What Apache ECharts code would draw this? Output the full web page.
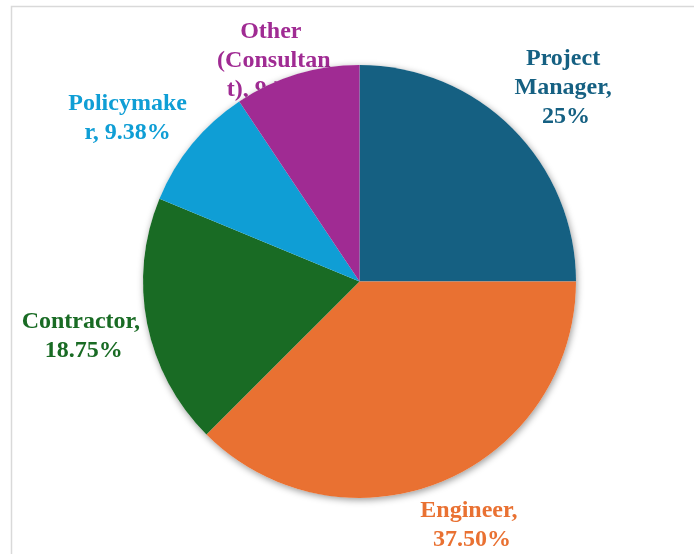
<!DOCTYPE html>
<html>
<head>
<meta charset="utf-8">
<script src="https://cdn.jsdelivr.net/npm/echarts@6/dist/echarts.min.js"></script>
<style>
html,body{margin:0;padding:0;background:#fff;}
#chart{width:694px;height:554px;}
</style>
</head>
<body>
<div id="chart"></div>
<script>
// Data
const categories = ['Project Manager', 'Engineer', 'Contractor', 'Policymaker', 'Other (Consultant)'];
const counts = [8, 12, 6, 3, 3];
const colors = ['#156082', '#E97132', '#196B24', '#0F9ED5', '#A02B93'];

// Label styling (wrap widths and nudges per slice)
const labelWidths = [110, 110, 126, 122, 117];
const labelOffsets = [[10, 3], [6, -13], [-6, 1], [-17, 13], [-5, 45]];

const total = counts.reduce((a, b) => a + b, 0);
function pctText(v) {
  const p = v / total * 100;
  return (Number.isInteger(p) ? String(p) : p.toFixed(2)) + '%';
}

const center = [359.5, 281.5];
const R = 216.5;

const chart = echarts.init(document.getElementById('chart'), null, {renderer: 'canvas'});
chart.setOption({
  animation: false,
  backgroundColor: '#ffffff',
  graphic: [{
    type: 'rect',
    silent: true,
    z: 0,
    shape: {x: 11.5, y: 6.5, width: 900, height: 900},
    style: {fill: 'none', stroke: '#d9d9d9', lineWidth: 1.5}
  }],
  series: [
    {
      // label layer (drawn beneath the pie)
      type: 'pie',
      z: 1,
      silent: true,
      center: center,
      radius: [250, 300],
      startAngle: 90,
      clockwise: true,
      itemStyle: {color: 'rgba(0,0,0,0)', borderWidth: 0},
      labelLine: {show: false},
      emphasis: {disabled: true},
      data: categories.map((c, i) => ({
        name: c,
        value: counts[i],
        label: {
          show: true,
          position: 'inside',
          formatter: c + ', ' + pctText(counts[i]),
          color: colors[i],
          fontFamily: '"Liberation Serif", "Times New Roman", serif',
          fontWeight: 'bold',
          fontSize: 24,
          lineHeight: 29,
          width: labelWidths[i],
          overflow: 'break',
          align: 'center',
          verticalAlign: 'middle',
          offset: labelOffsets[i]
        }
      }))
    },
    {
      // shadow disc
      type: 'pie',
      z: 1.5,
      silent: true,
      center: center,
      radius: [0, R],
      label: {show: false},
      labelLine: {show: false},
      emphasis: {disabled: true},
      itemStyle: {color: '#ffffff', shadowBlur: 7, shadowColor: 'rgba(0,0,0,0.4)', shadowOffsetX: 1, shadowOffsetY: 2},
      data: [{name: 'all', value: total}]
    },
    {
      type: 'pie',
      z: 2,
      center: center,
      radius: [0, R],
      startAngle: 90,
      clockwise: true,
      label: {show: false},
      labelLine: {show: false},
      itemStyle: {borderWidth: 0},
      data: categories.map((c, i) => ({name: c, value: counts[i], itemStyle: {color: colors[i]}}))
    }
  ]
});
</script>
</body>
</html>
